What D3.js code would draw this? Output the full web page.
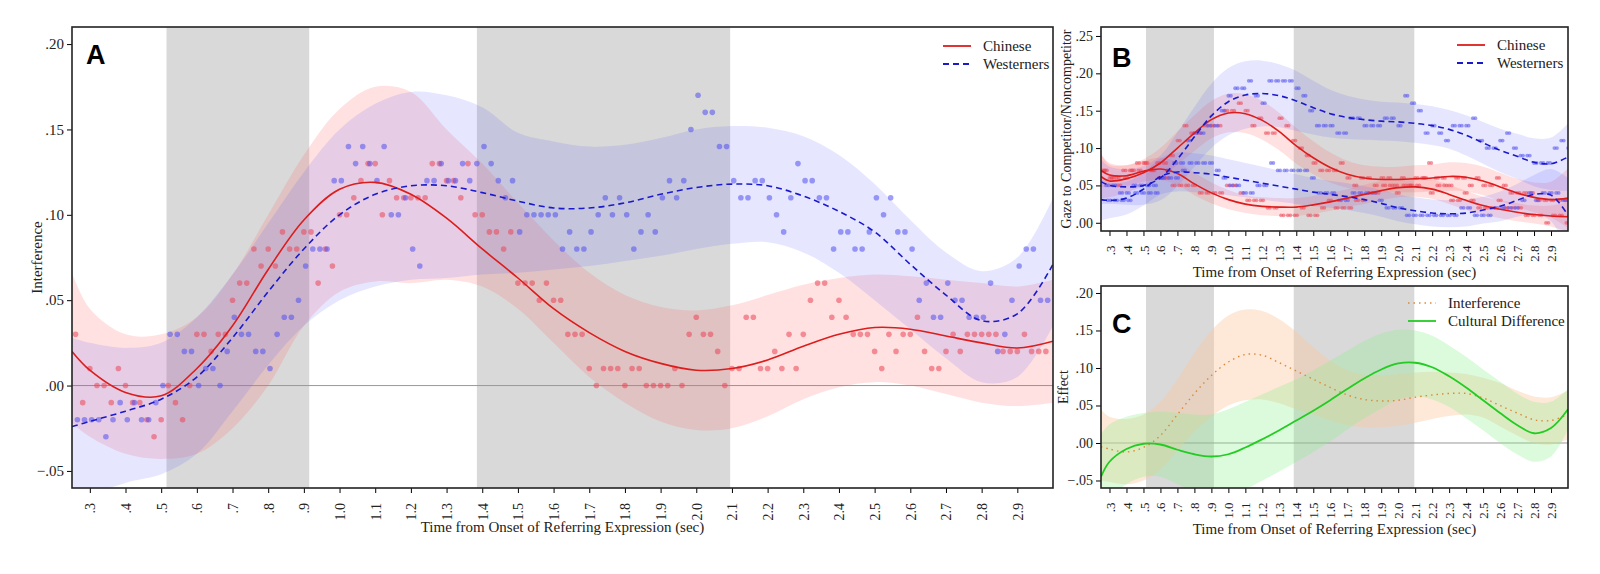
<!DOCTYPE html>
<html><head><meta charset="utf-8">
<script src="https://cdn.jsdelivr.net/npm/d3@7"></script>
<style>body{margin:0;background:#fff}text{font-family:"Liberation Serif","Times New Roman",serif}</style>
</head><body><svg id="c" width="1600" height="574"></svg>
<script>
// ---- data ----
const knots = [0.25,0.3,0.4,0.5,0.6,0.7,0.8,0.9,1.0,1.1,1.2,1.3,1.4,1.5,1.6,1.7,1.8,1.9,2.0,2.1,2.2,2.3,2.4,2.5,2.6,2.7,2.8,2.9,3.0];
const xTickLabels = [".3",".4",".5",".6",".7",".8",".9","1.0","1.1","1.2","1.3","1.4","1.5","1.6","1.7","1.8","1.9","2.0","2.1","2.2","2.3","2.4","2.5","2.6","2.7","2.8","2.9"];
const grayWindows = [[0.515,0.915],[1.385,2.095]];
// Panel A fits
const aChinese    = [0.020,0.009,-0.004,-0.006,0.010,0.035,0.068,0.097,0.115,0.119,0.112,0.098,0.080,0.063,0.045,0.031,0.020,0.013,0.009,0.010,0.015,0.023,0.030,0.034,0.033,0.029,0.025,0.022,0.026];
const aChineseHi  = [0.066,0.045,0.030,0.030,0.040,0.065,0.100,0.135,0.162,0.175,0.172,0.150,0.130,0.107,0.085,0.066,0.053,0.046,0.044,0.047,0.053,0.059,0.063,0.065,0.064,0.062,0.060,0.058,0.062];
const aChineseLo  = [-0.022,-0.030,-0.040,-0.043,-0.040,-0.025,0.000,0.035,0.055,0.061,0.060,0.062,0.058,0.045,0.025,0.005,-0.010,-0.021,-0.026,-0.025,-0.018,-0.008,-0.001,0.002,0.000,-0.005,-0.010,-0.012,-0.010];
const aWestern    = [-0.024,-0.021,-0.015,-0.008,0.005,0.028,0.055,0.080,0.100,0.112,0.117,0.117,0.113,0.108,0.104,0.104,0.107,0.112,0.116,0.118,0.117,0.111,0.102,0.090,0.071,0.053,0.038,0.042,0.071];
const aWesternHi  = [0.028,0.025,0.022,0.025,0.040,0.065,0.095,0.125,0.150,0.165,0.172,0.170,0.163,0.148,0.143,0.140,0.141,0.145,0.150,0.152,0.151,0.146,0.135,0.118,0.097,0.078,0.067,0.075,0.110];
const aWesternLo  = [-0.075,-0.065,-0.057,-0.052,-0.040,-0.015,0.012,0.035,0.050,0.058,0.062,0.063,0.065,0.066,0.068,0.070,0.073,0.076,0.080,0.083,0.084,0.078,0.066,0.050,0.033,0.016,0.002,0.005,0.035];
// Panel A observed points (hundredths) at 0.26 + 0.02*i
const aChinesePts = [3,-1,1,0,0,-1,1,0,-1,-1,-2,-3,-2,0,-1,-2,0,3,3,2,3,3,5,6,6,8,7,8,7,9,8,8,9,9,6,8,7,10,10,11,12,13,13,10,12,11,11,11,11,11,13,13,12,12,11,13,10,10,9,9,8,9,6,6,6,5,6,5,5,3,3,3,1,0,1,1,1,0,1,1,0,0,0,0,1,0,3,4,3,3,2,0,1,1,4,4,1,1,2,1,3,1,3,5,6,6,4,5,4,3,3,3,2,1,3,2,3,3,4,2,1,1,2,3,2,3,3,3,3,3,2,2,2,3,2,2,2];
const aWesternPts = [-2,-2,-2,-2,-3,-2,-1,-2,-1,-2,-2,-1,0,3,3,2,2,0,1,1,0,2,4,3,3,2,2,1,3,4,4,5,7,8,8,8,12,12,14,13,14,13,12,14,10,10,11,8,7,12,12,13,12,12,13,12,13,14,13,12,11,12,9,10,10,10,10,10,8,9,8,8,9,10,11,10,11,10,8,9,10,9,11,12,11,12,15,17,16,16,14,14,12,11,11,12,12,11,10,9,11,13,12,12,11,11,8,9,9,8,8,9,11,10,11,9,9,8,5,6,4,4,6,5,5,4,4,4,6,2,3,5,7,8,8,5,5];
// Panel B fits (two measures per group)
const bChineseA = [0.062,0.056,0.059,0.067,0.080,0.100,0.120,0.138,0.147,0.146,0.137,0.122,0.103,0.087,0.074,0.065,0.060,0.058,0.058,0.059,0.060,0.062,0.061,0.056,0.048,0.040,0.034,0.031,0.033];
const bChineseAHw = [0.030,0.022,0.018,0.018,0.020,0.022,0.024,0.025,0.026,0.026,0.026,0.025,0.024,0.022,0.020,0.018,0.017,0.017,0.017,0.018,0.018,0.019,0.019,0.019,0.019,0.019,0.020,0.024,0.040];
const bChineseB = [0.070,0.064,0.063,0.069,0.072,0.066,0.052,0.040,0.031,0.025,0.022,0.021,0.021,0.024,0.028,0.033,0.038,0.043,0.047,0.048,0.045,0.038,0.030,0.023,0.018,0.014,0.011,0.009,0.008];
const bChineseBHw = [0.022,0.016,0.014,0.014,0.015,0.015,0.015,0.014,0.013,0.012,0.012,0.012,0.012,0.012,0.012,0.012,0.013,0.013,0.013,0.013,0.013,0.013,0.013,0.012,0.012,0.012,0.012,0.014,0.020];
const bWesternA = [0.055,0.050,0.048,0.050,0.060,0.085,0.115,0.143,0.162,0.171,0.173,0.170,0.163,0.154,0.146,0.141,0.138,0.136,0.135,0.133,0.130,0.125,0.117,0.107,0.097,0.089,0.081,0.079,0.088];
const bWesternAHw = [0.030,0.025,0.024,0.026,0.030,0.036,0.040,0.043,0.045,0.045,0.044,0.042,0.040,0.036,0.032,0.029,0.027,0.026,0.026,0.026,0.026,0.026,0.027,0.028,0.029,0.030,0.032,0.035,0.045];
const bWesternB = [0.031,0.030,0.033,0.045,0.062,0.068,0.067,0.065,0.061,0.057,0.053,0.049,0.045,0.041,0.038,0.035,0.031,0.026,0.020,0.016,0.013,0.012,0.013,0.017,0.022,0.030,0.038,0.037,0.010];
const bWesternBHw = [0.028,0.024,0.022,0.022,0.024,0.026,0.026,0.025,0.024,0.023,0.022,0.021,0.020,0.019,0.018,0.018,0.018,0.018,0.018,0.018,0.018,0.018,0.018,0.018,0.020,0.022,0.026,0.035,0.050];
// Panel B observed points (hundredths) at 0.26 + 0.04*i
const bChineseAPts = [7,6,6,7,7,8,8,7,8,8,9,11,13,12,12,13,13,13,15,15,16,15,13,14,12,12,14,13,11,10,9,8,7,7,7,8,6,5,6,6,5,6,6,5,6,5,6,6,8,6,6,5,6,6,5,6,5,5,6,5,4,4,4,4,3,3,3,3,3];
const bChineseBPts = [7,6,5,6,7,7,8,7,6,6,5,5,5,5,4,4,4,4,5,5,4,3,3,3,2,2,1,1,1,2,1,1,2,3,2,2,2,3,3,4,4,5,5,4,5,5,5,6,4,5,5,3,3,4,3,2,2,2,3,2,2,2,1,1,1,0,1,1,0];
const bWesternAPts = [5,5,4,4,5,5,5,5,6,7,8,8,11,12,12,13,13,15,17,18,18,19,17,16,19,19,19,19,18,17,15,13,13,13,12,12,14,14,13,13,13,14,14,13,17,16,15,12,13,12,11,13,13,13,14,11,10,10,11,12,10,9,9,8,8,8,10,11,10];
const bWesternBPts = [3,3,3,3,4,4,4,4,6,6,6,7,8,8,8,8,7,6,5,5,4,4,5,5,8,7,7,7,7,7,6,4,4,4,3,3,4,4,4,4,3,2,2,2,1,1,1,1,1,1,1,1,2,2,1,1,1,2,2,2,2,3,4,3,4,4,4,3,3];
// Panel C effects
const cInterf   = [-0.005,-0.008,-0.012,-0.006,0.010,0.038,0.066,0.090,0.108,0.118,0.117,0.107,0.096,0.085,0.074,0.064,0.058,0.056,0.057,0.061,0.064,0.066,0.066,0.060,0.050,0.040,0.031,0.030,0.038];
const cInterfHi = [0.045,0.035,0.032,0.038,0.055,0.085,0.120,0.150,0.170,0.178,0.176,0.165,0.148,0.128,0.110,0.097,0.091,0.090,0.092,0.094,0.095,0.094,0.092,0.087,0.080,0.070,0.062,0.061,0.070];
const cInterfLo = [-0.050,-0.052,-0.055,-0.050,-0.035,-0.010,0.015,0.035,0.050,0.057,0.058,0.053,0.045,0.038,0.030,0.024,0.021,0.021,0.023,0.027,0.032,0.036,0.038,0.034,0.022,0.010,0.000,-0.002,0.005];
const cCult     = [-0.045,-0.025,-0.008,-0.001,-0.002,-0.009,-0.015,-0.018,-0.015,-0.006,0.005,0.017,0.030,0.043,0.057,0.072,0.086,0.098,0.106,0.107,0.101,0.089,0.074,0.057,0.040,0.024,0.013,0.020,0.045];
const cCultHi   = [0.012,0.025,0.035,0.040,0.042,0.040,0.038,0.038,0.045,0.055,0.065,0.075,0.085,0.097,0.110,0.123,0.136,0.146,0.151,0.150,0.143,0.130,0.115,0.098,0.082,0.066,0.055,0.055,0.072];
const cCultLo   = [-0.100,-0.075,-0.055,-0.045,-0.045,-0.055,-0.065,-0.072,-0.070,-0.062,-0.050,-0.038,-0.025,-0.012,0.002,0.018,0.033,0.046,0.058,0.062,0.058,0.048,0.033,0.017,0.000,-0.015,-0.025,-0.018,0.018];

// ---- drawing ----
const svg = d3.select("#c");
const RED="#dd1c1c", BLUE="#1a1acc";
let clipN=0;
function panel(o){
  const g = svg.append("g");
  const x = d3.scaleLinear().domain([0.25,3.0]).range([o.l,o.r]);
  const y = d3.scaleLinear().domain(o.yd).range([o.b,o.t]);
  const id="clip"+(clipN++);
  svg.append("clipPath").attr("id",id).append("rect").attr("x",o.l).attr("y",o.t).attr("width",o.r-o.l).attr("height",o.b-o.t);
  const pg = g.append("g").attr("clip-path",`url(#${id})`);
  grayWindows.forEach(w=>pg.append("rect").attr("x",x(w[0])).attr("y",o.t).attr("width",x(w[1])-x(w[0])).attr("height",o.b-o.t).attr("fill","#d9d9d9"));
  if(o.zero) pg.append("line").attr("x1",o.l).attr("x2",o.r).attr("y1",y(0)).attr("y2",y(0)).attr("stroke","#999").attr("stroke-width",1);
  const fx = o.ftx || ((i)=>0.26+0.02*i);
  const tickVals = xTickLabels.map(s=>+s);
  g.append("g").attr("transform",`translate(0,${o.b})`).call(d3.axisBottom(x).tickValues(tickVals).tickSize(5).tickFormat((d,i)=>xTickLabels[i]))
   .call(a=>{a.select(".domain").remove();a.selectAll("text").attr("transform","rotate(-90)").attr("text-anchor","end").attr("dx","-0.5em").attr("dy","-0.35em").attr("x",null).attr("y",null)
     .style("font-family","Liberation Serif").style("font-size",o.fs+"px").attr("fill","#222");
     a.selectAll("text").attr("transform","rotate(-90)").attr("x",-8).attr("y",0).attr("dy","0.35em");});
  g.append("g").attr("transform",`translate(${o.l},0)`).call(d3.axisLeft(y).tickValues(o.yt).tickSize(5).tickFormat(v=>{let s=Math.abs(v).toFixed(2).replace(/^0/,"");return (v<0?"−":"")+s;}))
   .call(a=>{a.select(".domain").remove();a.selectAll("text").style("font-family","Liberation Serif").style("font-size",(o.fs+1)+"px").attr("fill","#222");});
  g.append("rect").attr("x",o.l).attr("y",o.t).attr("width",o.r-o.l).attr("height",o.b-o.t).attr("fill","none").attr("stroke","#222").attr("stroke-width",1.6);
  g.append("text").attr("x",(o.l+o.r)/2).attr("y",o.b+o.tt).attr("text-anchor","middle").style("font-size","15px").attr("fill","#222").text("Time from Onset of Referring Expression (sec)");
  g.append("text").attr("transform",`translate(${o.yl},${(o.t+o.b)/2}) rotate(-90)`).attr("text-anchor","middle").style("font-size",o.yfs+"px").attr("fill","#222").text(o.ylab);
  g.append("text").attr("x",o.l+o.lx).attr("y",o.t+o.ly).style("font-family","Liberation Sans, Arial, sans-serif").style("font-weight","bold").style("font-size","27px").text(o.letter);
  return {g,pg,x,y};
}
const line=(x,y,vals)=>d3.line().curve(d3.curveCatmullRom).x((d,i)=>x(knots[i])).y(d=>y(d))(vals);
const area=(x,y,lo,hi)=>d3.area().curve(d3.curveCatmullRom).x((d,i)=>x(knots[i])).y0((d,i)=>y(lo[i])).y1((d,i)=>y(hi[i]))(lo);
function legend(g,x0,y0,items){
  items.forEach((it,i)=>{
    g.append("line").attr("x1",x0).attr("x2",x0+28).attr("y1",y0+i*18).attr("y2",y0+i*18).attr("stroke",it.c).attr("stroke-width",it.w||1.8).attr("stroke-dasharray",it.d||null);
    g.append("text").attr("x",x0+40).attr("y",y0+i*18).attr("dy","0.35em").style("font-size","15px").attr("fill","#222").text(it.t);
  });
}

// Panel A
{
  const P=panel({l:72,r:1053,t:27,b:488,yd:[-0.06,0.21],yt:[-0.05,0,0.05,0.10,0.15,0.20],zero:true,fs:14,tt:44,yl:42,yfs:15,ylab:"Interference",letter:"A",lx:14,ly:37});
  const {pg,x,y}=P;
  pg.append("path").attr("d",area(x,y,aChineseLo,aChineseHi)).attr("fill","rgba(255,90,90,0.18)");
  pg.append("path").attr("d",area(x,y,aWesternLo,aWesternHi)).attr("fill","rgba(90,90,255,0.15)");
  pg.selectAll(".pc").data(aChinesePts).enter().append("circle").attr("cx",(d,i)=>x(0.26+0.02*i)).attr("cy",d=>y(d/100)).attr("r",2.8).attr("fill","rgba(235,70,85,0.55)");
  pg.selectAll(".pw").data(aWesternPts).enter().append("circle").attr("cx",(d,i)=>x(0.265+0.02*i)).attr("cy",d=>y(d/100)).attr("r",2.8).attr("fill","rgba(80,80,240,0.55)");
  pg.append("path").attr("d",line(x,y,aChinese)).attr("fill","none").attr("stroke",RED).attr("stroke-width",1.6);
  pg.append("path").attr("d",line(x,y,aWestern)).attr("fill","none").attr("stroke",BLUE).attr("stroke-width",1.6).attr("stroke-dasharray","6,4");
  legend(P.g,943,46,[{t:"Chinese",c:RED},{t:"Westerners",c:BLUE,d:"6,4"}]);
}
// Panel B
{
  const P=panel({l:1101,r:1568,t:27,b:231,yd:[-0.011,0.262],yt:[0,0.05,0.10,0.15,0.20,0.25],zero:false,fs:13,tt:46,yl:1071,yfs:14,ylab:"Gaze to Competitor/Noncompetitor",letter:"B",lx:11,ly:40});
  const {pg,x,y}=P;
  const hiF=(v,h)=>v.map((d,i)=>d+h[i]), loF=(v,h)=>v.map((d,i)=>d-h[i]);
  [[bChineseA,bChineseAHw,"rgba(255,90,90,0.18)"],[bChineseB,bChineseBHw,"rgba(255,90,90,0.18)"],[bWesternA,bWesternAHw,"rgba(90,90,255,0.15)"],[bWesternB,bWesternBHw,"rgba(90,90,255,0.15)"]]
   .forEach(([v,h,c])=>pg.append("path").attr("d",area(x,y,loF(v,h),hiF(v,h))).attr("fill",c));
  [[bChineseAPts,"rgba(235,70,85,0.55)",0],[bChineseBPts,"rgba(235,70,85,0.55)",0.01],[bWesternAPts,"rgba(80,80,240,0.55)",0.02],[bWesternBPts,"rgba(80,80,240,0.55)",0.03]].forEach(([arr,c,off])=>{
    pg.append("g").selectAll("circle").data(arr).enter().append("circle").attr("cx",(d,i)=>x(0.26+off+0.04*i)).attr("cy",d=>y(d/100)).attr("r",1.9).attr("fill",c);
    pg.append("g").selectAll("circle").data(arr).enter().append("circle").attr("cx",(d,i)=>x(0.275+off+0.04*i)).attr("cy",d=>y(d/100)).attr("r",1.9).attr("fill",c);
  });
  [bChineseA,bChineseB].forEach(v=>pg.append("path").attr("d",line(x,y,v)).attr("fill","none").attr("stroke",RED).attr("stroke-width",1.6));
  [bWesternA,bWesternB].forEach(v=>pg.append("path").attr("d",line(x,y,v)).attr("fill","none").attr("stroke",BLUE).attr("stroke-width",1.6).attr("stroke-dasharray","6,4"));
  legend(P.g,1457,45,[{t:"Chinese",c:RED},{t:"Westerners",c:BLUE,d:"6,4"}]);
}
// Panel C
{
  const P=panel({l:1101,r:1568,t:286,b:488,yd:[-0.06,0.2093],yt:[-0.05,0,0.05,0.10,0.15,0.20],zero:true,fs:13,tt:46,yl:1068,yfs:14,ylab:"Effect",letter:"C",lx:11,ly:47});
  const {pg,x,y}=P;
  pg.append("path").attr("d",area(x,y,cInterfLo,cInterfHi)).attr("fill","rgba(252,200,160,0.4)");
  pg.append("path").attr("d",area(x,y,cCultLo,cCultHi)).attr("fill","rgba(140,240,140,0.3)");
  pg.append("path").attr("d",line(x,y,cInterf)).attr("fill","none").attr("stroke","#d98a3a").attr("stroke-width",1.4).attr("stroke-dasharray","1.5,4");
  pg.append("path").attr("d",line(x,y,cCult)).attr("fill","none").attr("stroke","#22cc22").attr("stroke-width",1.8);
  legend(P.g,1408,303,[{t:"Interference",c:"#d98a3a",d:"1.5,4",w:1.4},{t:"Cultural Difference",c:"#22cc22"}]);
}
</script></body></html>
